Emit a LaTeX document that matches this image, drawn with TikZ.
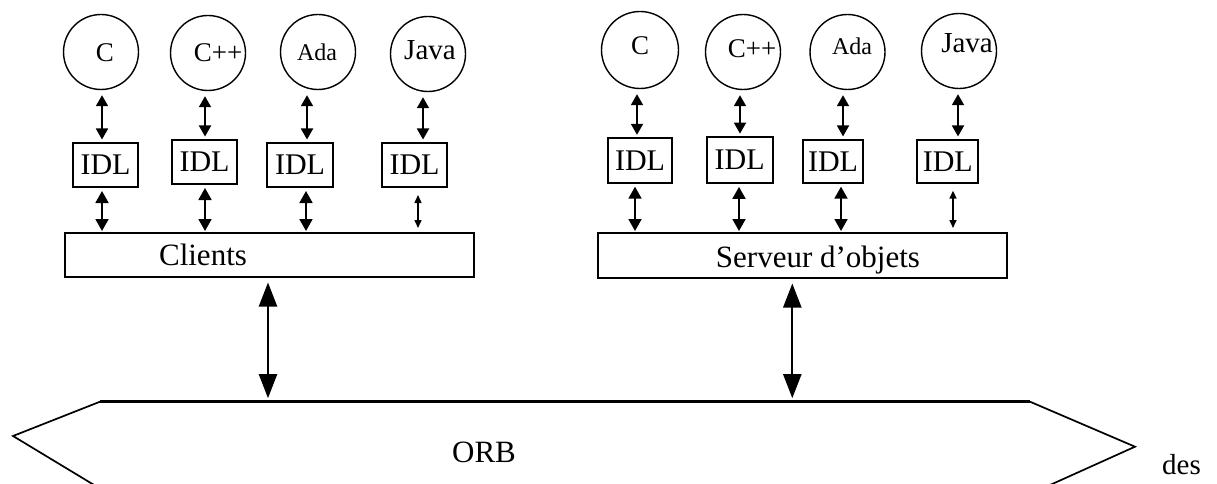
\documentclass[tikz,border=0pt]{standalone}
\usepackage{fontspec}
\setmainfont{Liberation Serif}
\usetikzlibrary{arrows.meta}
\begin{document}
\begin{tikzpicture}[x=1pt,y=-1pt,
  lang/.style={circle,draw,line width=1.4pt,minimum size=75pt,inner sep=0pt},
  langtxt/.style={anchor=base,inner sep=0pt,font=\fontsize{27}{30}\selectfont},
  idl/.style={draw,line width=2pt,inner sep=0pt,font=\fontsize{30}{32}\selectfont},
  groupbox/.style={draw,line width=2pt,inner sep=0pt,minimum width=409pt},
  grouptxt/.style={anchor=base,inner sep=0pt,font=\fontsize{31}{33}\selectfont},
  sarr/.style={line width=1.8pt,shorten <=5pt,shorten >=2.5pt,
    {Triangle[length=11pt,width=12pt]}-{Triangle[length=11pt,width=12pt]}},
  darr/.style={line width=1.8pt,shorten <=3pt,shorten >=1pt,
    {Triangle[length=12pt,width=13pt]}-{Triangle[length=12pt,width=13pt]}},
  tarr/.style={line width=1.5pt,shorten <=7pt,shorten >=4pt,
    {Triangle[length=8pt,width=7pt]}-{Triangle[length=8pt,width=7pt]}},
  barr/.style={line width=2.2pt,shorten <=4.5pt,shorten >=3.5pt,
    {Triangle[length=24pt,width=18pt]}-{Triangle[length=24pt,width=18pt]}},
  orbtop/.style={line width=2.6pt},
  orbside/.style={line width=1.7pt,line join=miter}
]
\useasboundingbox (0,0) rectangle (1217,484);
\clip (0,0) rectangle (1217,484);

% ---------- client side ----------
\node[lang] (lc1) at (101,52) {};
\node[lang] (lc2) at (208,53) {};
\node[lang] (lc3) at (318,52) {};
\node[lang] (lc4) at (428,54) {};
\node[langtxt] (tlc1) at (105,61.7) {C};
\node[langtxt] (tlc2) at (218,61.7) {C++};
\node[langtxt,font=\fontsize{24}{26}\selectfont] (tlc3) at (317,61) {Ada};
\node[langtxt,font=\fontsize{29}{31}\selectfont] (tlc4) at (430,60) {Java};

\node[idl,minimum width=65pt,minimum height=44pt] (il1) at (105.5,165) {IDL};
\node[idl,minimum width=65pt,minimum height=44pt] (il2) at (204.5,162) {IDL};
\node[idl,minimum width=66pt,minimum height=44pt] (il3) at (300,165) {IDL};
\node[idl,minimum width=65pt,minimum height=44pt] (il4) at (414.5,165) {IDL};

\node[groupbox,minimum height=44pt] (clients) at (269.5,255) {};
\node[grouptxt] (tclients) at (203,265) {Clients};

\coordinate (ax1) at (102,0);
\coordinate (ax2) at (205,0);
\coordinate (ax3) at (307,0);
\coordinate (ax4) at (423,0);
\coordinate (bx1) at (102,0);
\coordinate (bx2) at (205,0);
\coordinate (bx3) at (306,0);
\coordinate (bx4) at (418,0);

\draw[sarr] (ax1 |- lc1.south) -- (ax1 |- il1.north);
\draw[sarr] (ax2 |- lc2.south) -- (ax2 |- il2.north);
\draw[sarr] (ax3 |- lc3.south) -- (ax3 |- il3.north);
\draw[sarr] (ax4 |- lc4.south) -- (ax4 |- il4.north);
\draw[darr] (bx1 |- il1.south) -- (bx1 |- clients.north);
\draw[darr] (bx2 |- il2.south) -- (bx2 |- clients.north);
\draw[darr] (bx3 |- il3.south) -- (bx3 |- clients.north);
\draw[tarr] (bx4 |- il4.south) -- (bx4 |- clients.north);

% ---------- server side ----------
\node[lang,minimum size=77pt] (rc1) at (640,50) {};
\node[lang] (rc2) at (743,52) {};
\node[lang] (rc3) at (847.5,52) {};
\node[lang] (rc4) at (959,51) {};
\node[langtxt] (trc1) at (640,55) {C};
\node[langtxt] (trc2) at (752,58) {C++};
\node[langtxt,font=\fontsize{24}{26}\selectfont] (trc3) at (852,55) {Ada};
\node[langtxt,font=\fontsize{29}{31}\selectfont] (trc4) at (967,52.7) {Java};

\node[idl,minimum width=63.4pt,minimum height=44.4pt] (ir1) at (640,160.5) {IDL};
\node[idl,minimum width=66pt,minimum height=45.7pt] (ir2) at (739.7,160) {IDL};
\node[idl,minimum width=60.6pt,minimum height=42.7pt] (ir3) at (833,161.3) {IDL};
\node[idl,minimum width=61pt,minimum height=42.7pt] (ir4) at (947.8,161.3) {IDL};

\node[groupbox,minimum height=45pt] (serveur) at (802.5,255.5) {};
\node[grouptxt] (tserveur) at (818,267) {Serveur d'objets};

\coordinate (cx1) at (637,0);
\coordinate (cx2) at (740,0);
\coordinate (cx3) at (843,0);
\coordinate (cx4) at (958,0);
\coordinate (dx1) at (635,0);
\coordinate (dx2) at (739,0);
\coordinate (dx3) at (841,0);
\coordinate (dx4) at (953,0);

\draw[sarr] (cx1 |- rc1.south) -- (cx1 |- ir1.north);
\draw[sarr] (cx2 |- rc2.south) -- (cx2 |- ir2.north);
\draw[sarr] (cx3 |- rc3.south) -- (cx3 |- ir3.north);
\draw[sarr] (cx4 |- rc4.south) -- (cx4 |- ir4.north);
\draw[darr] (dx1 |- ir1.south) -- (dx1 |- serveur.north);
\draw[darr] (dx2 |- ir2.south) -- (dx2 |- serveur.north);
\draw[darr] (dx3 |- ir3.south) -- (dx3 |- serveur.north);
\draw[tarr] (dx4 |- ir4.south) -- (dx4 |- serveur.north);

% ---------- ORB bus ----------
\coordinate (oTL) at (100,401.7);
\coordinate (oTR) at (1030,401.7);
\coordinate (oR)  at (1135,446.7);
\coordinate (oBR) at (1030,494);
\coordinate (oBL) at (109,494);
\coordinate (oL)  at (13,436);
\draw[orbtop] (oTL) -- (oTR);
\draw[orbside] (oTL) -- (oL) -- (oBL) -- (oBR) -- (oR) -- (oTR);
\node[inner sep=0pt,font=\fontsize{31}{33}\selectfont] (orb) at (484,452) {ORB};

\coordinate (pA) at (268,401.7);
\coordinate (pB) at (792.3,401.7);
\draw[barr] (clients.south -| pA) -- (pA);
\draw[barr] (serveur.south -| pB) -- (pB);

\node[anchor=base west,inner sep=0pt,font=\fontsize{29}{31}\selectfont] (des) at (1162,474) {des};
\end{tikzpicture}
\end{document}
